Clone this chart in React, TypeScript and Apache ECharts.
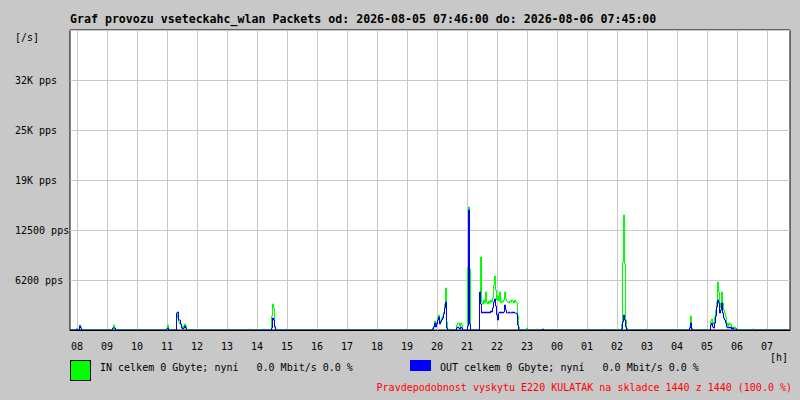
import React, { useEffect, useRef } from "react";
import * as echarts from "echarts";

const TITLE = "Graf provozu vseteckahc_wlan Packets od: 2026-08-05 07:46:00 do: 2026-08-06 07:45:00";
const IN_TEXT = "IN celkem 0 Gbyte; nyní   0.0 Mbit/s 0.0 %";
const OUT_TEXT = "OUT celkem 0 Gbyte; nyní   0.0 Mbit/s 0.0 %";
const FOOT_TEXT = "Pravdepodobnost vyskytu E220 KULATAK na skladce 1440 z 1440 (100.0 %)";

const START_TIME = "07:46";
const SAMPLE_STEP_MIN = 2;
const SPAN_MIN = 1440;

const hourLabels = ["08", "09", "10", "11", "12", "13", "14", "15", "16", "17", "18", "19",
  "20", "21", "22", "23", "00", "01", "02", "03", "04", "05", "06", "07"];
const yTickValues = [6250, 12500, 18750, 25000, 31250];
const yTickLabels = ["6200 pps", "12500 pps", "19K pps", "25K pps", "32K pps"];
const Y_MAX = 37500;

// non-zero samples (all other 2-minute samples are 0)
const sampleTimes = [
  "08:00", "08:06", "08:08", "09:12", "09:14", "09:16", "11:00", "11:02",
  "11:20", "11:22", "11:24", "11:26", "11:28", "11:30", "11:32", "11:34", "11:36", "11:38",
  "13:46", "14:14", "14:30", "14:32", "14:34", "14:36", "14:38",
  "19:52", "19:54", "19:56", "19:58", "20:00", "20:02", "20:04", "20:06", "20:08", "20:10",
  "20:12", "20:14", "20:16", "20:18", "20:20", "20:24",
  "20:40", "20:42", "20:44", "20:46", "20:48", "20:50",
  "21:02", "21:04", "21:06", "21:08",
  "21:26", "21:28", "21:30", "21:32", "21:34", "21:36", "21:38", "21:40", "21:42", "21:44",
  "21:46", "21:48", "21:50", "21:52", "21:54", "21:56", "21:58", "22:00", "22:02", "22:04",
  "22:06", "22:08", "22:10", "22:12", "22:14", "22:16", "22:18", "22:20", "22:22", "22:24",
  "22:26", "22:28", "22:30", "22:32", "22:34", "22:36", "22:38", "22:40", "22:42", "22:44",
  "23:00", "23:20", "23:32", "01:32",
  "02:10", "02:12", "02:14", "02:16", "02:18", "02:20",
  "04:26", "04:28", "04:30",
  "05:08", "05:10", "05:12", "05:14", "05:16", "05:18", "05:20", "05:22", "05:24", "05:26",
  "05:28", "05:30", "05:32", "05:34", "05:36", "05:38", "05:40", "05:42", "05:44", "05:46",
  "05:48", "05:50", "05:52", "05:54", "05:56", "05:58", "06:00", "06:32",
];
const inPps = [
  125, 625, 375, 250, 625, 125, 125, 625,
  1500, 2000, 1000, 750, 625, 250, 500, 250, 750, 500,
  125, 125, 1750, 3250, 2750, 500, 125,
  250, 500, 1125, 750, 1000, 1500, 1875, 1000, 1250, 1500,
  1750, 2250, 3250, 5250, 1000, 125,
  625, 875, 875, 500, 875, 625,
  7875, 15375, 7625, 125,
  3750, 9125, 3500, 3250, 3750, 3375, 4750, 3500, 3250, 3625,
  3375, 3750, 3500, 4000, 5625, 6750, 5000, 3750, 4250, 3625,
  4750, 3375, 3625, 3500, 3750, 4750, 3875, 3625, 3500, 3375,
  3625, 3500, 3750, 3625, 3375, 3750, 3500, 3375, 1750, 375,
  250, 125, 0, 125,
  750, 8500, 14375, 8250, 1250, 250,
  375, 1750, 250,
  1125, 1375, 1000, 750, 1625, 2500, 3500, 6000, 4750, 2750,
  3375, 4750, 3375, 2500, 2125, 1625, 875, 500, 875, 625,
  750, 250, 375, 250, 375, 250, 125, 125,
];
const outPps = [
  125, 500, 250, 250, 250, 250, 125, 250,
  2125, 2250, 1250, 1250, 750, 250, 125, 250, 500, 250,
  0, 0, 250, 1500, 1250, 375, 0,
  125, 375, 875, 375, 750, 1250, 1625, 750, 1000, 1250,
  1500, 2000, 2750, 3500, 250, 0,
  250, 375, 250, 125, 375, 250,
  500, 15000, 750, 0,
  4750, 3250, 2125, 2250, 2125, 2250, 2125, 2250, 2125, 2250,
  2125, 2375, 2250, 2750, 3500, 3875, 3000, 1875, 1250, 2125,
  2250, 2125, 2250, 2125, 2250, 3125, 2500, 2125, 2125, 2250,
  2125, 2125, 2250, 2125, 2250, 2125, 2125, 2000, 625, 0,
  0, 0, 125, 0,
  125, 1000, 1875, 1250, 375, 0,
  250, 875, 125,
  625, 875, 375, 250, 875, 1750, 2875, 3750, 3375, 2125,
  2500, 3375, 2125, 1500, 1250, 875, 375, 250, 375, 250,
  375, 125, 250, 125, 125, 125, 0, 0,
];

const MONO = "'DejaVu Sans Mono', 'Liberation Mono', monospace";

function minuteOf(t: string): number {
  const [h, m] = t.split(":").map(Number);
  const [sh, sm] = START_TIME.split(":").map(Number);
  let v = h * 60 + m - (sh * 60 + sm);
  if (v < 0) v += 1440;
  return v;
}

function buildSeries(values: number[]): [number, number][] {
  const n = SPAN_MIN / SAMPLE_STEP_MIN;
  const arr = new Array(n).fill(0);
  sampleTimes.forEach((t, i) => {
    arr[Math.round(minuteOf(t) / SAMPLE_STEP_MIN)] = values[i];
  });
  return arr.map((v, i) => [i * SAMPLE_STEP_MIN, v]);
}

export default function App() {
  const ref = useRef<HTMLDivElement>(null);
  useEffect(() => {
    if (!ref.current) return;
    const chart = echarts.init(ref.current, undefined, { renderer: "svg" });
    const hourTicks = hourLabels.map((_, i) => minuteOf(hourLabels[i] + ":00"));
    chart.setOption({
      animation: false,
      backgroundColor: "#c8c8c8",
      grid: {
        left: 70, top: 30, width: 720, height: 300,
        show: true, backgroundColor: "#ffffff", borderColor: "#000000", borderWidth: 1,
      },
      xAxis: [
        {
          type: "value", min: 0, max: SPAN_MIN, position: "bottom",
          axisLine: { show: false },
          axisTick: { show: false, customValues: hourTicks },
          splitLine: { show: true, lineStyle: { color: "#c8c8c8", width: 1 } },
          axisLabel: {
            customValues: hourTicks, margin: 11, color: "#000", fontFamily: MONO, fontSize: 10,
            formatter: (v: number) => {
              const i = hourTicks.indexOf(v);
              return i >= 0 ? hourLabels[i] : "";
            },
          },
        },
        {
          type: "value", min: 0, max: SPAN_MIN, position: "bottom", z: 5,
          axisLine: { show: true, onZero: false, lineStyle: { color: "#000", width: 1 } },
          axisTick: { show: false }, axisLabel: { show: false }, splitLine: { show: false },
        },
      ],
      yAxis: {
        type: "value", min: 0, max: Y_MAX, interval: 6250,
        axisLine: { show: false }, axisTick: { show: false },
        splitLine: { show: true, lineStyle: { color: "#c8c8c8", width: 1 } },
        axisLabel: {
          align: "left", margin: 55, color: "#000", fontFamily: MONO, fontSize: 10,
          formatter: (v: number) => {
            const i = yTickValues.indexOf(v);
            return i >= 0 ? yTickLabels[i] : "";
          },
        },
      },
      series: [
        {
          name: "IN", type: "line", xAxisIndex: 0, step: "middle", showSymbol: false, symbol: "none",
          lineStyle: { color: "#00ff00", width: 1 }, itemStyle: { color: "#00ff00" },
          data: buildSeries(inPps),
        },
        {
          name: "OUT", type: "line", xAxisIndex: 0, step: "middle", showSymbol: false, symbol: "none",
          lineStyle: { color: "#0000ff", width: 1 }, itemStyle: { color: "#0000ff" },
          data: buildSeries(outPps),
        },
      ],
      graphic: [
        { type: "text", x: 70, y: 19, style: { text: TITLE, font: `bold 11.6px ${MONO}`, fill: "#000", verticalAlign: "middle" } },
        { type: "text", x: 15, y: 37, style: { text: "[/s]", font: `10px ${MONO}`, fill: "#000", verticalAlign: "middle" } },
        { type: "text", x: 770, y: 357, style: { text: "[h]", font: `10px ${MONO}`, fill: "#000", verticalAlign: "middle" } },
        { type: "rect", shape: { x: 70.5, y: 360.5, width: 20, height: 20 }, style: { fill: "#00ff00", stroke: "#000", lineWidth: 1 } },
        { type: "text", x: 100, y: 367, style: { text: IN_TEXT, font: `10px ${MONO}`, fill: "#000", verticalAlign: "middle" } },
        { type: "rect", shape: { x: 410, y: 360, width: 21, height: 11 }, style: { fill: "#0000ff" } },
        { type: "text", x: 440, y: 367, style: { text: OUT_TEXT, font: `10px ${MONO}`, fill: "#000", verticalAlign: "middle" } },
        { type: "text", x: 792, y: 387, style: { text: FOOT_TEXT, font: `10px ${MONO}`, fill: "#ff0000", align: "right", verticalAlign: "middle" } },
      ],
    });
    return () => chart.dispose();
  }, []);
  return <div ref={ref} style={{ position: "absolute", left: 0, top: 0, width: 800, height: 400 }} />;
}
